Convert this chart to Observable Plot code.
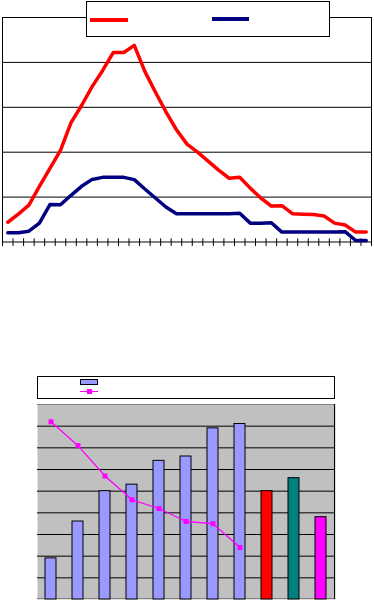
<!DOCTYPE html>
<html>
<head>
<meta charset="utf-8">
<script src="https://cdn.jsdelivr.net/npm/d3@7"></script>
<script src="https://cdn.jsdelivr.net/npm/@observablehq/plot@0.6"></script>
<style>
  html, body { margin: 0; padding: 0; background: #fff; }
  #page { position: relative; width: 374px; height: 605px; overflow: hidden; font-family: "Liberation Sans", Arial, sans-serif; }
  .abs { position: absolute; }
  .legend { position: absolute; background: #fff; border: 1px solid #000; box-sizing: border-box; }
  svg { display: block; }
</style>
</head>
<body>
<div id="page">
  <div id="top" class="abs" style="left:0;top:0;"></div>
  <div id="bottom" class="abs" style="left:0;top:400px;"></div>
  <div class="legend" style="left:86px;top:1px;width:244px;height:36px;">
    <div class="abs" style="left:3px;top:16px;width:38px;height:4px;background:#FF0000;"></div>
    <div class="abs" style="left:125px;top:15px;width:37px;height:4px;background:#000080;"></div>
  </div>
  <div class="legend" style="left:37px;top:376px;width:298px;height:23px;">
    <div class="abs" style="left:42px;top:2px;width:18px;height:6px;background:#9999FF;border:1px solid #000;box-sizing:border-box;"></div>
    <div class="abs" style="left:42px;top:14px;width:18px;height:1.3px;background:#FF00FF;"></div>
    <div class="abs" style="left:48.5px;top:12px;width:5px;height:5px;background:#FF00FF;"></div>
  </div>
</div>
<script>
// ---- Top chart: two series over 35 periods ----
const redSeries = [22, 31, 41, 62, 82, 102, 133, 152, 173, 191, 211, 211, 219, 190, 167,
                   145, 125, 109, 100, 90, 80, 71, 72, 60, 49, 40, 40.5, 31.5, 31, 30.7,
                   29, 21, 19, 11, 11];
const blueSeries = [10.3, 10.3, 12, 21, 41.7, 41.5, 52, 62, 69.7, 72, 72, 72, 69.5, 59, 49,
                    39, 31.5, 31.5, 31.5, 31.5, 31.5, 31.5, 32, 21, 21, 21.5, 11, 11, 11, 11,
                    11, 11, 11.5, 1.7, 1.7];
const topGrid = [50, 100, 150, 200];

// ---- Bottom chart: bars + line over 11 categories ----
const barCategories = ["1", "2", "3", "4", "5", "6", "7", "8", "9", "10", "11"];
const barValues = [19, 36, 50, 53, 64, 66, 79, 81, 50, 56, 38];
const lineCategories = ["1", "2", "3", "4", "5", "6", "7", "8"];
const lineValues = [82, 71, 57, 46, 42, 36, 35, 24];
const bottomGrid = [10, 20, 30, 40, 50, 60, 70, 80];

const nPeriods = redSeries.length;
const topPlot = Plot.plot({
  width: 374, height: 250,
  marginLeft: 2, marginRight: 3, marginTop: 17, marginBottom: 8.5,
  x: {type: "linear", domain: [0, nPeriods], axis: null},
  y: {domain: [0, 250], axis: null},
  marks: [
    Plot.ruleY(topGrid, {stroke: "#000", strokeWidth: 1}),
    Plot.frame({stroke: "#000", strokeWidth: 1}),
    Plot.ruleX(d3.range(nPeriods + 1), {y1: -5, y2: 3.5, stroke: "#000", strokeWidth: 1}),
    Plot.line(redSeries, {x: (d, i) => i + 0.5, y: d => d, stroke: "#FF0000", strokeWidth: 3.5, strokeLinejoin: "round"}),
    Plot.line(blueSeries, {x: (d, i) => i + 0.5, y: d => d, stroke: "#000080", strokeWidth: 3.5, strokeLinejoin: "round"})
  ]
});
document.getElementById("top").appendChild(topPlot);

function edge(side, color) {
  return (index, scales, values, dims) => {
    const {width, height, marginLeft, marginRight, marginTop, marginBottom} = dims;
    const l = marginLeft, r = width - marginRight, t = marginTop, b = height - marginBottom;
    const line = d3.create("svg:line").attr("stroke", color).attr("stroke-width", 1);
    if (side === "right") line.attr("x1", r - 0.5).attr("x2", r - 0.5).attr("y1", t).attr("y2", b);
    if (side === "top") line.attr("x1", l).attr("x2", r).attr("y1", t + 0.5).attr("y2", t + 0.5);
    if (side === "bottom") line.attr("x1", l).attr("x2", r).attr("y1", b - 0.5).attr("y2", b - 0.5);
    return line.node();
  };
}

const barColor = d3.scaleOrdinal()
  .domain(barCategories)
  .range(["#9999FF", "#9999FF", "#9999FF", "#9999FF", "#9999FF", "#9999FF", "#9999FF", "#9999FF", "#FF0000", "#008080", "#FF00FF"]);

const bars = barCategories.map((c, i) => ({cat: c, value: barValues[i]}));
const pts = lineCategories.map((c, i) => ({cat: c, value: lineValues[i]}));

const bottomPlot = Plot.plot({
  width: 374, height: 205,
  marginLeft: 37, marginRight: 39, marginTop: 4, marginBottom: 6,
  x: {type: "band", domain: barCategories, paddingInner: 0.58, paddingOuter: 0.29, axis: null},
  y: {domain: [0, 90], axis: null},
  marks: [
    Plot.frame({fill: "#C0C0C0", stroke: null}),
    Plot.ruleY(bottomGrid, {stroke: "#000", strokeWidth: 1}),
    edge("top", "#808080"),
    edge("bottom", "#808080"),
    edge("right", "#000"),
    Plot.barY(bars, {x: "cat", y: "value", fill: d => barColor(d.cat), stroke: "#000", strokeWidth: 1}),
    Plot.line(pts, {x: "cat", y: "value", stroke: "#FF00FF", strokeWidth: 1.3}),
    Plot.dot(pts, {x: "cat", y: "value", symbol: "square", r: 2.8, fill: "#FF00FF", stroke: null})
  ]
});
document.getElementById("bottom").appendChild(bottomPlot);
</script>
</body>
</html>
